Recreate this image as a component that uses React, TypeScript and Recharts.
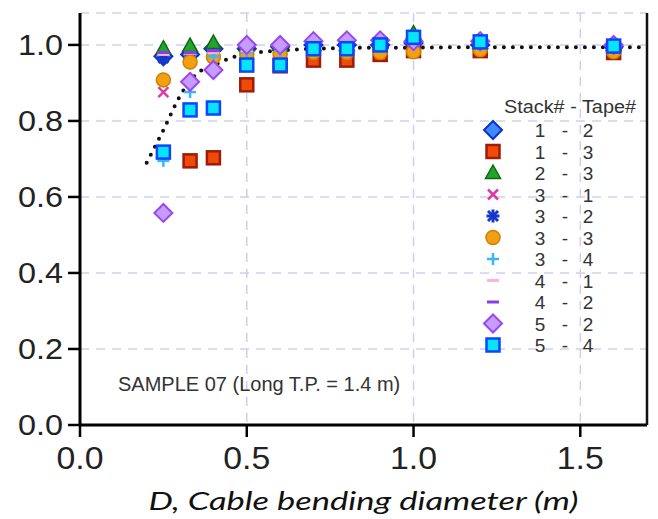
import React from 'react';
import {
  ComposedChart,
  Scatter,
  XAxis,
  YAxis,
  CartesianGrid,
} from 'recharts';

// bending diameters (m) where every stack/tape pair was measured
const DIAMETERS = [0.25, 0.33, 0.4, 0.5, 0.6, 0.7, 0.8, 0.9, 1.0, 1.2, 1.6];

const S12 = [0.97, 0.975, 0.99, 0.99, 0.995, 1.0, 1.0, 1.0, 1.005, 1.0, 0.995];
const S13 = [null, 0.695, 0.703, 0.895, 0.945, 0.96, 0.96, 0.975, 0.985, 0.985, 0.98];
const S23 = [0.99, 0.997, 1.005, 1.0, 1.0, 1.0, 1.0, 1.01, 1.03, 1.005, 1.0];
const S31 = [0.876, 0.96, 0.975, 0.98, 0.985, 0.99, 0.99, 0.99, 1.0, 0.995, 0.99];
const S32 = [0.966, 0.965, 0.975, 0.985, 0.99, 0.99, 0.99, 0.995, 1.0, 1.0, 0.995];
const S33 = [0.908, 0.955, 0.968, 0.975, 0.975, 0.98, 0.98, 0.98, 0.982, 0.987, 0.982];
const S34 = [0.695, 0.876, 0.97, 0.98, 0.985, 0.99, 0.99, 0.995, 1.0, 1.0, 0.995];
const S41 = [0.975, 0.978, 0.98, 0.985, 0.99, 0.99, 0.99, 0.995, 1.0, 1.0, 0.995];
const S42 = [0.98, 0.98, 0.985, 0.99, 0.99, 0.995, 0.995, 1.0, 1.0, 1.0, 0.995];
const S52 = [0.558, 0.903, 0.934, 1.0, 1.0, 1.01, 1.012, 1.012, 1.01, 1.01, 1.0];
const S54 = [0.718, 0.829, 0.834, 0.947, 0.947, 0.99, 0.99, 1.0, 1.02, 1.008, 0.997];

// dotted fit curve
const TREND_X = [0.2, 0.25, 0.3, 0.35, 0.4, 0.45, 0.5, 0.6, 0.7, 0.8, 1.0, 1.2, 1.7];
const TREND_Y = [0.69, 0.776, 0.866, 0.924, 0.946, 0.965, 0.976, 0.985, 0.99, 0.992, 0.993, 0.994, 0.994];

const X_TICKS = [0, 0.5, 1.0, 1.5];
const Y_TICKS = [0, 0.2, 0.4, 0.6, 0.8, 1.0];

type Kind = 'diamond' | 'square' | 'triangle' | 'x' | 'star' | 'circle' | 'plus' | 'dash';

interface SeriesDef {
  stack: string;
  tape: string;
  values: (number | null)[];
  kind: Kind;
  fill: string;
  stroke: string;
}

const SERIES: SeriesDef[] = [
  { stack: '1', tape: '2', values: S12, kind: 'diamond', fill: '#3d8cff', stroke: '#1030d0' },
  { stack: '1', tape: '3', values: S13, kind: 'square', fill: '#ee4a0a', stroke: '#a01c08' },
  { stack: '2', tape: '3', values: S23, kind: 'triangle', fill: '#22a52a', stroke: '#0c6a12' },
  { stack: '3', tape: '1', values: S31, kind: 'x', fill: '#dd3aa8', stroke: '#dd3aa8' },
  { stack: '3', tape: '2', values: S32, kind: 'star', fill: '#1638c8', stroke: '#1638c8' },
  { stack: '3', tape: '3', values: S33, kind: 'circle', fill: '#f0a010', stroke: '#d08000' },
  { stack: '3', tape: '4', values: S34, kind: 'plus', fill: '#3cb4ff', stroke: '#3cb4ff' },
  { stack: '4', tape: '1', values: S41, kind: 'dash', fill: '#ffb0dc', stroke: '#ffb0dc' },
  { stack: '4', tape: '2', values: S42, kind: 'dash', fill: '#8a3ee0', stroke: '#8a3ee0' },
  { stack: '5', tape: '2', values: S52, kind: 'diamond', fill: '#c79cff', stroke: '#9a48ee' },
  { stack: '5', tape: '4', values: S54, kind: 'square', fill: '#08e4ff', stroke: '#0a46ff' },
];

const FONT = '"Liberation Sans", Arial, sans-serif';

const Marker = ({ kind, cx, cy, fill, stroke }: { kind: Kind; cx: number; cy: number; fill: string; stroke: string }) => {
  if (cx == null || cy == null) return null;
  switch (kind) {
    case 'diamond':
      return (
        <polygon
          points={`${cx},${cy - 9} ${cx + 9},${cy} ${cx},${cy + 9} ${cx - 9},${cy}`}
          fill={fill}
          stroke={stroke}
          strokeWidth={2}
        />
      );
    case 'square':
      return <rect x={cx - 6.5} y={cy - 6.5} width={13} height={13} fill={fill} stroke={stroke} strokeWidth={2.5} />;
    case 'triangle':
      return (
        <polygon
          points={`${cx},${cy - 8} ${cx + 7.5},${cy + 5.5} ${cx - 7.5},${cy + 5.5}`}
          fill={fill}
          stroke={stroke}
          strokeWidth={1.5}
        />
      );
    case 'x':
      return (
        <g stroke={stroke} strokeWidth={2.5}>
          <line x1={cx - 5} y1={cy - 5} x2={cx + 5} y2={cy + 5} />
          <line x1={cx - 5} y1={cy + 5} x2={cx + 5} y2={cy - 5} />
        </g>
      );
    case 'star':
      return (
        <g stroke={stroke} strokeWidth={3}>
          <line x1={cx - 6.5} y1={cy} x2={cx + 6.5} y2={cy} />
          <line x1={cx} y1={cy - 6.5} x2={cx} y2={cy + 6.5} />
          <line x1={cx - 5} y1={cy - 5} x2={cx + 5} y2={cy + 5} />
          <line x1={cx - 5} y1={cy + 5} x2={cx + 5} y2={cy - 5} />
        </g>
      );
    case 'circle':
      return <circle cx={cx} cy={cy} r={7} fill={fill} stroke={stroke} strokeWidth={1.5} />;
    case 'plus':
      return (
        <g stroke={stroke} strokeWidth={2.5}>
          <line x1={cx - 6} y1={cy} x2={cx + 6} y2={cy} />
          <line x1={cx} y1={cy - 6} x2={cx} y2={cy + 6} />
        </g>
      );
    case 'dash':
      return <line x1={cx - 6} y1={cy} x2={cx + 6} y2={cy} stroke={stroke} strokeWidth={3} />;
  }
  return null;
};

// the source picture is a little stretched sideways, so tick texts get a fixed length
const XTick = ({ x, y, payload }: any) => (
  <text
    x={x}
    y={y}
    dy="0.71em"
    textAnchor="middle"
    fontFamily={FONT}
    fontSize={31}
    fill="#222"
    textLength={47}
    lengthAdjust="spacingAndGlyphs"
  >
    {Number(payload.value).toFixed(1)}
  </text>
);

const YTick = ({ x, y, payload }: any) => (
  <text
    x={x}
    y={y}
    dy="0.355em"
    textAnchor="end"
    fontFamily={FONT}
    fontSize={29}
    fill="#222"
    textLength={45}
    lengthAdjust="spacingAndGlyphs"
  >
    {Number(payload.value).toFixed(1)}
  </text>
);

const AxisTitle = ({ viewBox }: any) => {
  const cx = viewBox.x + viewBox.width / 2;
  return (
    <text
      x={cx}
      y={510}
      textAnchor="middle"
      fontFamily='Lato, "Open Sans", sans-serif'
      fontStyle="italic"
      fontSize={26}
      fill="#111"
      textLength={430}
      lengthAdjust="spacingAndGlyphs"
    >
      D, Cable bending diameter (m)
    </text>
  );
};

const LegendBox = () => (
  <svg width={175} height={270} style={{ overflow: 'visible', display: 'block' }}>
    <text
      x={95}
      y={23}
      textAnchor="middle"
      fontFamily={FONT}
      fontSize={17.5}
      fill="#333"
      textLength={132}
      lengthAdjust="spacingAndGlyphs"
    >
      Stack# - Tape#
    </text>
    {SERIES.map((s, i) => {
      const y = 40 + i * 21.5;
      return (
        <g key={i}>
          <Marker kind={s.kind} cx={18} cy={y} fill={s.fill} stroke={s.stroke} />
          <g fontFamily={FONT} fontSize={19} fill="#333" textAnchor="middle">
            <text x={65} y={y + 7}>{s.stack}</text>
            <text x={90} y={y + 7}>-</text>
            <text x={113} y={y + 7}>{s.tape}</text>
          </g>
        </g>
      );
    })}
  </svg>
);

export default function App() {
  const trend = TREND_X.map((x, i) => ({ x, y: TREND_Y[i] }));

  return (
    <div style={{ position: 'absolute', left: 0, top: 0, width: 658, height: 519, background: '#fff' }}>
      <ComposedChart width={658} height={519} margin={{ top: 13, right: 0, bottom: 0, left: 0 }}>
        <CartesianGrid stroke="#cfcff4" strokeDasharray="9 7" strokeWidth={1.5} />
        <XAxis
          type="number"
          dataKey="x"
          domain={[0, 1.7]}
          ticks={X_TICKS}
          interval={0}
          allowDataOverflow
          tick={<XTick />}
          tickSize={12}
          tickMargin={10}
          height={94}
          axisLine={{ stroke: '#000', strokeWidth: 3 }}
          tickLine={{ stroke: '#000', strokeWidth: 2.5 }}
          label={<AxisTitle />}
        />
        <XAxis
          xAxisId="top"
          orientation="top"
          type="number"
          dataKey="x"
          domain={[0, 1.7]}
          height={0}
          tick={false}
          tickLine={false}
          axisLine={{ stroke: '#111', strokeWidth: 2.5 }}
        />
        <YAxis
          type="number"
          dataKey="y"
          domain={[0, 1.084]}
          ticks={Y_TICKS}
          interval={0}
          allowDataOverflow
          tick={<YTick />}
          tickSize={12}
          tickMargin={5}
          width={80}
          axisLine={{ stroke: '#000', strokeWidth: 3 }}
          tickLine={{ stroke: '#000', strokeWidth: 2.5 }}
        />
        <YAxis
          yAxisId="right"
          orientation="right"
          type="number"
          dataKey="y"
          domain={[0, 1.084]}
          ticks={Y_TICKS}
          interval={0}
          width={11}
          tick={false}
          tickSize={8}
          axisLine={{ stroke: '#111', strokeWidth: 2.5 }}
          tickLine={{ stroke: '#111', strokeWidth: 2 }}
        />
        <Scatter
          data={trend}
          isAnimationActive={false}
          shape={() => null}
          line={{ stroke: '#111', strokeWidth: 4, strokeDasharray: '0 9', strokeLinecap: 'round' }}
          lineJointType="monotoneX"
          legendType="none"
        />
        {SERIES.map((s, si) => (
          <Scatter
            key={si}
            name={`${s.stack} - ${s.tape}`}
            data={DIAMETERS.map((x, i) => ({ x, y: s.values[i] })).filter((p) => p.y != null)}
            isAnimationActive={false}
            shape={(p: any) => <Marker kind={s.kind} cx={p.cx} cy={p.cy} fill={s.fill} stroke={s.stroke} />}
          />
        ))}
      </ComposedChart>
      <div style={{ position: 'absolute', left: 475, top: 90 }}>
        <LegendBox />
      </div>
      <div
        style={{
          position: 'absolute',
          left: 118,
          top: 373,
          fontFamily: FONT,
          fontSize: 20,
          color: '#333',
          whiteSpace: 'nowrap',
        }}
      >
        SAMPLE 07 (Long T.P. = 1.4 m)
      </div>
    </div>
  );
}
